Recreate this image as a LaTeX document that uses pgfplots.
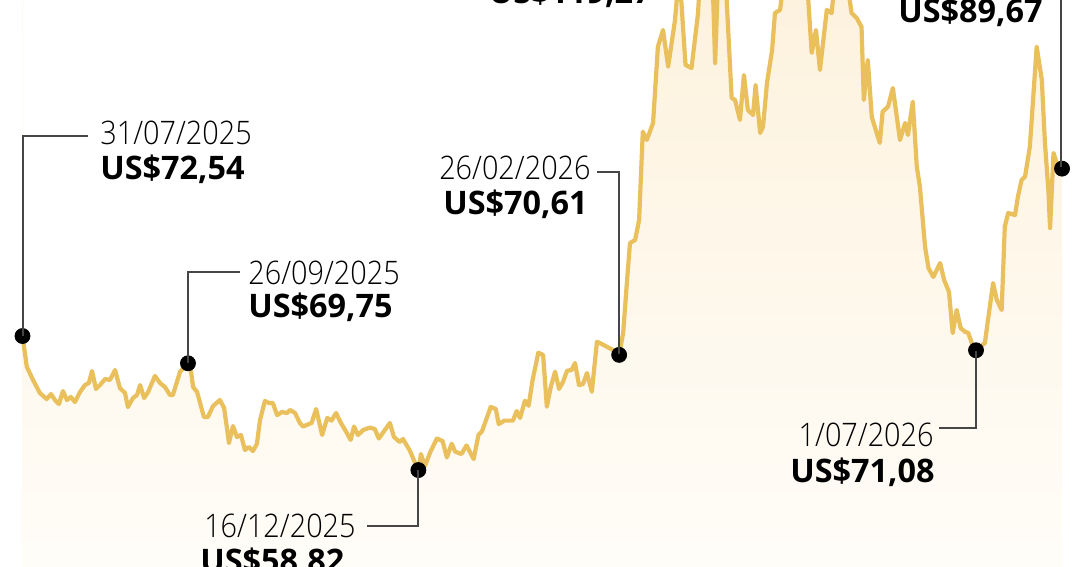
\documentclass[border=0pt]{standalone}
\usepackage{pgfplots}
\pgfplotsset{compat=1.18}
\usepackage{pgfplotstable}
\usepgfplotslibrary{fillbetween}
\usepackage{fontspec}
\IfFontExistsTF{Open Sans Light}
  {\newfontfamily\lightfont{Open Sans Light}[FakeStretch=0.89]}
  {\newfontfamily\lightfont{Open Sans}[FakeStretch=0.89]}
\newfontfamily\opensans{Open Sans}
\newcommand\datef{\lightfont\fontsize{16.2bp}{19bp}\selectfont}
\newcommand\valf{\opensans\bfseries\fontsize{16.2bp}{19bp}\selectfont}

\definecolor{oilline}{RGB}{233,192,92}
\definecolor{filltop}{RGB}{253,242,222}
\definecolor{fillbot}{RGB}{255,253,248}
\definecolor{leader}{RGB}{70,70,70}

% days since 31/07/2025, price in US$
\pgfplotstableread{
d v
0 72.54
1.5 69.40
3.7 68.04
6.1 66.71
8.5 66.09
10.0 66.60
11.4 65.99
12.8 65.58
14.2 66.91
15.6 65.99
17.0 66.30
18.4 65.78
20.2 66.81
21.9 67.52
23.3 67.73
24.4 68.96
25.8 67.12
27.2 67.52
29.0 68.14
30.7 68.04
32.5 69.06
34.2 67.22
36.0 66.71
37.0 65.27
38.8 66.19
40.2 66.50
41.3 67.52
42.7 66.19
44.1 66.81
46.5 68.45
48.3 67.73
50.0 67.32
51.8 66.50
52.8 66.50
55.3 68.86
56.7 69.37
58.1 69.75
59.2 68.86
59.9 67.32
61.3 66.81
63.7 64.25
65.1 64.25
66.9 65.38
69.3 65.99
70.8 65.17
72.5 61.59
73.9 63.33
75.3 62.20
76.7 62.41
78.1 60.87
79.5 61.18
80.9 60.77
82.3 61.49
83.4 63.94
85.1 65.89
86.6 65.68
87.9 65.68
89.4 64.45
91.1 64.76
92.9 64.66
93.9 64.97
95.7 64.66
97.4 63.64
98.5 63.28
101.5 63.64
103.1 65.07
105.2 62.41
107.0 64.15
108.5 63.88
110.1 64.66
111.8 63.64
113.6 62.76
115.2 61.90
116.4 63.28
117.8 62.41
119.6 62.92
122.0 63.17
123.7 63.02
125.1 62.05
129.0 63.64
130.4 62.22
132.4 61.69
133.6 62.00
136.0 60.81
137.8 59.58
139.0 58.82
139.9 60.46
141.3 59.24
143.2 60.67
145.5 62.05
147.5 61.79
149.0 60.11
150.7 61.52
151.9 60.71
154.1 60.46
155.9 61.34
158.4 59.95
160.1 62.41
161.3 62.76
164.4 65.28
166.2 65.07
167.2 63.53
169.2 63.88
172.2 63.88
173.5 64.86
174.7 64.15
176.4 65.92
177.7 65.40
179.1 68.04
181.1 70.83
182.8 70.60
184.1 65.30
185.5 67.35
187.0 68.89
188.4 67.12
189.8 67.86
191.2 68.99
192.8 69.06
194.0 69.78
195.4 67.52
196.8 67.63
198.2 68.75
199.9 66.84
201.7 71.96
203.4 71.72
207.3 71.11
209.5 70.61
210.9 72.85
212.2 77.96
213.3 82.06
215.1 82.37
216.5 84.41
217.8 93.45
219.2 92.60
221.4 94.34
223.1 102.15
224.9 103.86
226.7 100.10
229.1 104.88
230.6 110.00
232.8 100.28
234.9 99.97
237.2 105.60
238.6 113.07
240.7 119.27
242.1 111.00
243.2 100.48
244.2 108.98
246.3 112.04
247.6 104.90
249.0 96.90
250.2 96.70
251.9 94.65
253.3 99.25
254.7 95.67
256.5 95.16
257.4 98.23
259.0 93.32
260.0 93.93
261.4 98.44
263.2 101.81
264.2 105.60
266.0 105.91
267.7 110.00
269.5 108.00
272.0 112.00
274.0 109.00
275.8 107.40
277.1 101.51
278.6 103.86
280.0 99.77
282.4 105.91
284.1 105.60
285.6 110.00
287.8 108.00
289.2 109.50
291.1 105.60
292.9 105.09
294.6 104.17
295.4 96.70
296.8 100.79
298.2 94.96
301.0 92.30
302.0 95.50
303.9 96.01
305.6 97.92
308.1 92.60
309.9 94.34
310.9 93.11
312.6 96.52
314.0 89.87
315.1 87.82
316.9 81.68
318.1 79.50
319.8 78.58
322.2 80.01
323.6 78.27
325.3 77.07
326.6 72.85
328.0 75.20
329.4 73.36
330.9 72.98
332.1 72.85
333.3 71.82
334.8 71.08
337.9 71.82
339.0 74.18
340.8 77.96
342.1 76.22
343.8 75.20
344.9 83.73
346.1 85.13
348.5 84.92
349.5 86.80
350.8 88.51
352.0 88.84
353.7 91.92
356.1 102.15
357.9 98.74
359.0 92.30
360.2 87.48
360.8 83.59
362.0 91.27
363.1 90.25
365.0 89.67
}\oil

\begin{document}
\begin{tikzpicture}
\begin{axis}[
    at={(0,0)}, anchor=south west,
    scale only axis, width=540bp, height=283.5bp,
    xmin=-7.9, xmax=371.31, ymin=48.9, ymax=106.93,
    hide axis, clip=true]
  % soft wash under the price line: a shaded band, then white above the line
  \begin{pgfonlayer}{axis background}
    \shade[top color=filltop, bottom color=fillbot]
      (axis cs:0,48.9) rectangle (axis cs:365,106.93);
  \end{pgfonlayer}
  \addplot[name path=price, draw=none] table[x=d,y=v]{\oil};
  \addplot[name path=top, draw=none] coordinates {(0,130) (365,130)};
  \addplot[white] fill between[of=price and top];
  \addplot[oilline, line width=2.1bp, line join=round] table[x=d,y=v]{\oil};
  \addplot[only marks, mark=*, mark size=3.75bp, black] coordinates {
    (0,72.54) (58.1,69.75) (139.0,58.82) (209.5,70.61) (334.8,71.08) (365.0,89.67)};
\end{axis}

% annotations, in pixels of the 1080x567 frame
\begin{scope}[x=0.5bp, y=-0.5bp, shift={(0,283.5bp)}]
  \draw[leader, line width=0.6bp] (23,336) |- (88,136);
  \draw[leader, line width=0.6bp] (188,363) |- (240,272);
  \draw[leader, line width=0.6bp] (418,470) |- (367,526);
  \draw[leader, line width=0.6bp] (619,354) |- (597,172);
  \draw[leader, line width=0.6bp] (976,351) |- (939.5,428);
  \draw[leader, line width=0.6bp] (1061,167) -- (1061,-20);

  \node[anchor=base west, inner sep=0, font=\datef] at (100,145) {31/07/2025};
  \node[anchor=base west, inner sep=0, font=\valf] at (100,180) {US\$72,54};
  \node[anchor=base west, inner sep=0, font=\datef] at (248,285) {26/09/2025};
  \node[anchor=base west, inner sep=0, font=\valf] at (248,318) {US\$69,75};
  \node[anchor=base east, inner sep=0, font=\datef] at (356,538) {16/12/2025};
  \node[anchor=base west, inner sep=0, font=\valf] at (200,573) {US\$58.82};
  \node[anchor=base east, inner sep=0, font=\datef] at (591,180) {26/02/2026};
  \node[anchor=base east, inner sep=0, font=\valf] at (588,215) {US\$70,61};
  \node[anchor=base east, inner sep=0, font=\datef] at (934,447) {1/07/2026};
  \node[anchor=base east, inner sep=0, font=\valf] at (935,483) {US\$71,08};
  \node[anchor=base east, inner sep=0, font=\valf] at (1043,23) {US\$89,67};
  \node[anchor=base east, inner sep=0, font=\valf] at (652,4) {US\$119,27};
\end{scope}
\pgfresetboundingbox
\useasboundingbox (0,0) rectangle (540bp,283.5bp);
\end{tikzpicture}
\end{document}
